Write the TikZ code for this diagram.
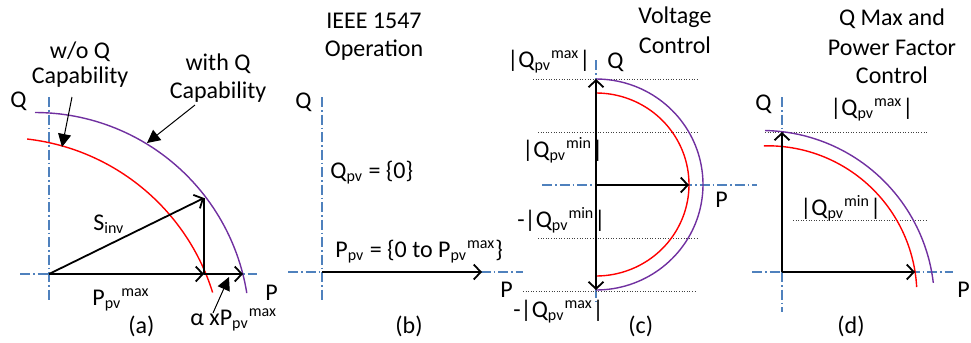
\documentclass[tikz,border=0pt]{standalone}
\usepackage{fontspec}
\setmainfont{Carlito}
\usetikzlibrary{arrows.meta}

\definecolor{axiscol}{HTML}{4F81BD}
\definecolor{withqcol}{HTML}{7030A0}
\definecolor{woqcol}{HTML}{FF0000}

\tikzset{
  axis line/.style={axiscol, line width=0.6pt, dash pattern=on 5pt off 1.5pt on 0.75pt off 1.5pt},
  vec/.style={line width=0.9pt, -{Straight Barb[length=3.5pt,width=7.5pt]}},
  callout/.style={line width=0.5pt, -{Triangle[length=6.5pt,width=6.5pt]}},
  level line/.style={black!75, line width=0.4pt, dash pattern=on 0.5pt off 0.8pt},
  withq/.style={withqcol, line width=0.7pt},
  woq/.style={woqcol, line width=0.7pt},
  lbl/.style={font=\fontsize{12}{14}\selectfont, inner sep=0pt, anchor=base west},
  ttl/.style={font=\fontsize{12}{14}\selectfont, inner sep=0pt, anchor=base},
}

\begin{document}
\begin{tikzpicture}[x=0.5pt, y=-0.5pt]
  \useasboundingbox (0,0) rectangle (971,343);

  % ---------- (a) capability curves
  \draw[axis line] (49,97) -- (49,302);
  \draw[axis line] (20,274) -- (257,274);
  \draw[withq] plot[domain=-90:-9.1, samples=60] ({35+214.5*cos(\x)}, {327+214.5*sin(\x)});
  \draw[woq] plot[domain=-83.5:-17.3, samples=60] ({2.2+220.4*cos(\x)}, {358+220.4*sin(\x)});

  \coordinate (oA) at (49,274);
  \coordinate (sA) at (204,198);
  \coordinate (pA) at (204,274);
  \coordinate (aA) at (243,274);
  \draw[line width=0.9pt] (pA) -- (sA);
  \draw[vec] (oA) -- (sA);
  \draw[vec] (oA) -- (pA);
  \draw[vec] (pA) -- (aA);

  \node[ttl] (woq1) at (80,58) {w/o Q};
  \node[ttl] (woq2) at (80,83) {Capability};
  \node[ttl] (wq1) at (218,70) {with Q};
  \node[ttl] (wq2) at (218,98) {Capability};
  \node[lbl] (qA) at (10,107) {Q};
  \node[lbl] (sinv) at (93,230) {S\textsubscript{inv}};
  \node[lbl] (ppvA) at (92,305) {P\textsubscript{pv}\textsuperscript{max}};
  \node[lbl] (alphaA) at (190,325) {α xP\textsubscript{pv}\textsuperscript{max}};
  \node[lbl] (pAx) at (265,300) {P};
  \node[lbl] (capA) at (128,333) {(a)};

  \coordinate (woqtail) at (72,97);
  \coordinate (woqtip) at (62,147);
  \coordinate (wqtail) at (195,105);
  \coordinate (wqtip) at (147,143);
  \coordinate (altail) at (213,313);
  \coordinate (altip) at (229,277);
  \draw[callout] (woqtail) -- (woqtip);
  \draw[callout] (wqtail) -- (wqtip);
  \draw[callout] (altail) -- (altip);

  % ---------- (b) IEEE 1547
  \draw[axis line] (322,97) -- (322,300);
  \draw[axis line] (288,272) -- (523,272);
  \coordinate (oB) at (322,272);
  \coordinate (pB) at (482,272);
  \draw[vec] (oB) -- (pB);

  \node[ttl] (ieee1) at (374,28) {IEEE 1547};
  \node[ttl] (ieee2) at (374,56) {Operation};
  \node[lbl] (qB) at (295,108) {Q};
  \node[lbl] (qpvB) at (330,178) {Q\textsubscript{pv} = \{0\}};
  \node[lbl] (ppvB) at (335,257) {P\textsubscript{pv} = \{0 to P\textsubscript{pv}\textsuperscript{max}\}};
  \node[lbl] (pBx) at (500,297) {P};
  \node[lbl] (capB) at (395,333) {(b)};

  % ---------- (c) voltage control
  \draw[axis line] (596,60) -- (596,305);
  \draw[axis line] (542,185) -- (757,185);
  \draw[level line] (533,79) -- (697,79);
  \draw[level line] (538,132) -- (697,132);
  \draw[level line] (538,238) -- (697,238);
  \draw[level line] (523,291) -- (697,291);
  \draw[withq] plot[domain=-90:90, samples=80] ({596+107*cos(\x)}, {184.5+105.5*sin(\x)});
  \draw[woq] plot[domain=-90:90, samples=80] ({596+93*cos(\x)}, {184.5+91.5*sin(\x)});

  \coordinate (topC) at (596,79);
  \coordinate (botC) at (596,290);
  \coordinate (oC) at (596,185);
  \coordinate (pC) at (689,185);
  \draw[vec, {Straight Barb[length=3.5pt,width=7.5pt]}-{Straight Barb[length=3.5pt,width=7.5pt]}] (botC) -- (topC);
  \draw[vec] (oC) -- (pC);

  \node[ttl] (volt1) at (675,23) {Voltage};
  \node[ttl] (volt2) at (675,53) {Control};
  \node[lbl] (qmaxC) at (507,67) {|Q\textsubscript{pv}\textsuperscript{max}|};
  \node[lbl] (qC) at (607,68) {Q};
  \node[lbl] (qminC) at (522,157) {|Q\textsubscript{pv}\textsuperscript{min}|};
  \node[lbl] (nqminC) at (517,227) {-|Q\textsubscript{pv}\textsuperscript{min}|};
  \node[lbl] (nqmaxC) at (513,317) {-|Q\textsubscript{pv}\textsuperscript{max}|};
  \node[lbl] (pCx) at (715,207) {P};
  \node[lbl] (capC) at (628,333) {(c)};

  % ---------- (d) Q max and power factor control
  \draw[axis line] (782,97) -- (782,312);
  \draw[axis line] (752,272) -- (953,272);
  \draw[level line] (765,132) -- (927,132);
  \draw[level line] (793,220) -- (927,220);
  \draw[withq] plot[domain=-89:-6.7, samples=60] ({762+172.5*cos(\x)}, {303+172.5*sin(\x)});
  \draw[woq] plot[domain=-91.4:-3.1, samples=60] ({767.6+149.3*cos(\x)}, {295.1+149.3*sin(\x)});

  \coordinate (oD) at (782,272);
  \coordinate (qD) at (782,132);
  \coordinate (pD) at (915,272);
  \draw[vec] (oD) -- (qD);
  \draw[vec] (oD) -- (pD);

  \node[ttl] (pf1) at (892,25) {Q Max and};
  \node[ttl] (pf2) at (892,55) {Power Factor};
  \node[ttl] (pf3) at (892,83) {Control};
  \node[lbl] (qDx) at (755,110) {Q};
  \node[lbl] (qmaxD) at (830,115) {|Q\textsubscript{pv}\textsuperscript{max}|};
  \node[lbl] (qminD) at (800,215) {|Q\textsubscript{pv}\textsuperscript{min}|};
  \node[lbl] (pDx) at (957,297) {P};
  \node[lbl] (capD) at (837,333) {(d)};
\end{tikzpicture}
\end{document}
